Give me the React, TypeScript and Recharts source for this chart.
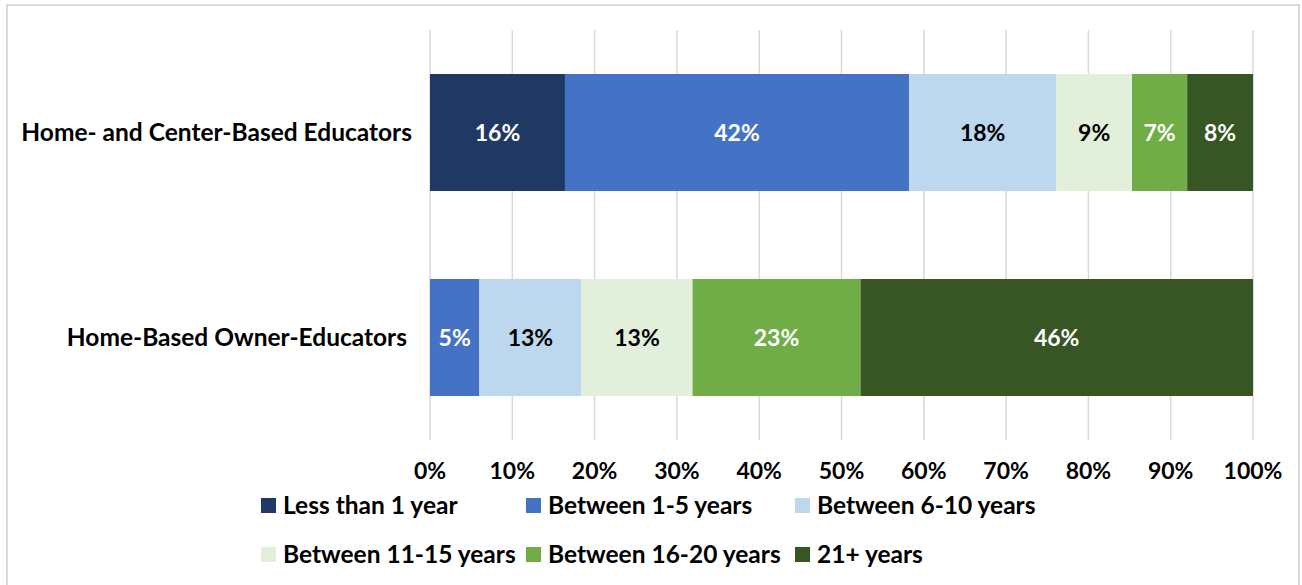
import React from 'react';
import { BarChart, Bar, XAxis, YAxis, CartesianGrid, LabelList } from 'recharts';

const categories = ['Home- and Center-Based Educators', 'Home-Based Owner-Educators'];
const seriesNames = [
  'Less than 1 year',
  'Between 1-5 years',
  'Between 6-10 years',
  'Between 11-15 years',
  'Between 16-20 years',
  '21+ years',
];
const seriesColors = ['#203864', '#4472C4', '#BDD7EE', '#E2EFDA', '#70AD47', '#375623'];
const labelColors = ['#ffffff', '#ffffff', '#000000', '#000000', '#ffffff', '#ffffff'];

const lessThan1 = [16.4, 0];
const between1to5 = [41.8, 6.0];
const between6to10 = [17.9, 12.4];
const between11to15 = [9.2, 13.5];
const between16to20 = [6.7, 20.4];
const over21 = [8.0, 47.8];

const lessThan1Labels = ['16%', ''];
const between1to5Labels = ['42%', '5%'];
const between6to10Labels = ['18%', '13%'];
const between11to15Labels = ['9%', '13%'];
const between16to20Labels = ['7%', '23%'];
const over21Labels = ['8%', '46%'];

const xTicks = [0, 10, 20, 30, 40, 50, 60, 70, 80, 90, 100];

const seriesValues = [lessThan1, between1to5, between6to10, between11to15, between16to20, over21];
const seriesLabels = [
  lessThan1Labels,
  between1to5Labels,
  between6to10Labels,
  between11to15Labels,
  between16to20Labels,
  over21Labels,
];

const data = categories.map((name, i) => {
  const row: Record<string, string | number> = { name };
  seriesValues.forEach((vals, k) => {
    row[`s${k}`] = vals[i];
    row[`l${k}`] = seriesLabels[k][i];
  });
  return row;
});

const FONT = 'Lato, "Open Sans", sans-serif';

const legendCols = [261, 526, 795];

const CategoryTick = (props: any) => {
  const { x, y, payload, index } = props;
  const shift = index === 1 ? 5 : 0;
  return (
    <text
      x={x - shift}
      y={y}
      dy="0.355em"
      textAnchor="end"
      fill="#000"
      style={{ fontFamily: FONT, fontWeight: 700, fontSize: 24.5 }}
    >
      {payload.value}
    </text>
  );
};

const CustomLegend = () => (
  <div style={{ position: 'absolute', left: 0, top: 493, width: 1302, height: 90 }}>
    {seriesNames.map((n, k) => {
      const col = k % 3;
      const row = Math.floor(k / 3);
      return (
        <div
          key={n}
          style={{
            position: 'absolute',
            left: legendCols[col],
            top: row * 49,
            height: 24,
            display: 'flex',
            alignItems: 'center',
            whiteSpace: 'nowrap',
          }}
        >
          <span style={{ width: 15, height: 15, background: seriesColors[k], display: 'inline-block', marginRight: 7, flex: 'none' }} />
          <span style={{ fontFamily: FONT, fontWeight: 700, fontSize: 24.5, color: '#000', lineHeight: '24px' }}>{n}</span>
        </div>
      );
    })}
  </div>
);

export default function App() {
  return (
    <div style={{ position: 'absolute', left: 0, top: 0, width: 1302, height: 585, overflow: 'hidden', background: '#fff', fontFamily: FONT }}>
      <div
        style={{
          position: 'absolute',
          left: 6,
          top: 4,
          width: 1294,
          height: 600,
          border: '2px solid #d9d9d9',
          boxSizing: 'border-box',
        }}
      />
      <div style={{ position: 'absolute', left: 0, top: 0 }}>
        <BarChart
          width={1302}
          height={585}
          data={data}
          layout="vertical"
          margin={{ top: 30, right: 49, bottom: 115, left: 0 }}
          barSize={117}
        >
          <CartesianGrid horizontal={false} vertical={true} stroke="#d9d9d9" strokeWidth={1.5} />
          <XAxis
            type="number"
            domain={[0, 100]}
            ticks={xTicks}
            allowDataOverflow
            tickFormatter={(v: number) => `${v}%`}
            axisLine={false}
            tickLine={false}
            tickMargin={17}
            height={30}
            tick={{ fontFamily: FONT, fontWeight: 700, fontSize: 23, fill: '#000' }}
            interval={0}
          />
          <YAxis
            type="category"
            dataKey="name"
            width={430}
            axisLine={false}
            tickLine={false}
            tickMargin={12}
            tick={<CategoryTick />}
          />
          {seriesNames.map((n, k) => (
            <Bar key={n} dataKey={`s${k}`} name={n} stackId="a" fill={seriesColors[k]} isAnimationActive={false}>
              <LabelList
                dataKey={`l${k}`}
                position="center"
                fill={labelColors[k]}
                style={{ fontFamily: FONT, fontWeight: 700, fontSize: 23 }}
              />
            </Bar>
          ))}
        </BarChart>
      </div>
      <CustomLegend />
    </div>
  );
}
